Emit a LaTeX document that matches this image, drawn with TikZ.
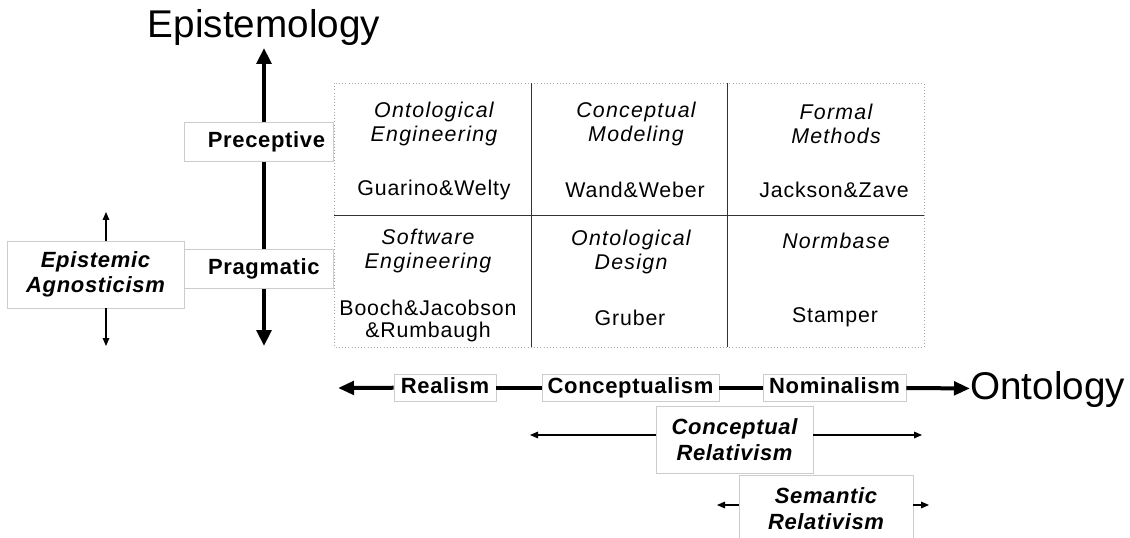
\documentclass[tikz,border=0pt]{standalone}
\usepackage{fontspec}
\setmainfont{Liberation Sans}
\usetikzlibrary{arrows.meta}

\begin{document}
\begin{tikzpicture}[x=0.75pt, y=-0.75pt,
		lbl/.style={draw=gray!40, fill=white, inner sep=0pt, align=center, font=\fontsize{16.5}{19}\selectfont\bfseries\addfontfeature{LetterSpace=3}},
		lbls/.style={lbl, text height=12pt, text depth=3.5pt},
		lbli/.style={lbl, font=\fontsize{16.5}{19}\selectfont\bfseries\itshape\addfontfeature{LetterSpace=3}},
		cell/.style={align=center, inner sep=0pt, font=\fontsize{16}{18}\selectfont\itshape\addfontfeature{LetterSpace=6}},
		who/.style={align=center, inner sep=0pt, font=\fontsize{16}{17}\selectfont\addfontfeature{LetterSpace=4}},
		big/.style={inner sep=0pt, font=\fontsize{29}{30}\selectfont},
		bigarrow/.style={line width=3pt, {Triangle[length=12pt, width=11pt]}-{Triangle[length=12pt, width=11pt]}},
		halfarrow/.style={line width=3pt, -{Triangle[length=12pt, width=10pt]}},
		thinarrow/.style={line width=0.8pt, -{Triangle[length=6pt, width=5pt]}}]
	\useasboundingbox (0,0) rectangle (1130,538);
	%axis titles
	\node[big] (epi) at (264,28) {Epistemology};
	\node[big, anchor=west] (ont) at (970,389) {Ontology};
	%epistemology axis
	\coordinate (vtop) at (264,48);
	\coordinate (vbot) at (264,346);
	\draw[bigarrow] (vbot) -- (vtop);
	\node[lbls, minimum width=111.75pt, minimum height=29.25pt] (prec) at (258.5,141.5) {\hspace{12pt}Preceptive};
	\node[lbli, minimum width=132.75pt, minimum height=50.25pt] (agn) at (95.5,274.5) {Epistemic\\Agnosticism};
	\node[lbls, minimum width=111.75pt, minimum height=29.25pt] (prag) at (258.5,268.5) {\hspace{8pt}Pragmatic};
	\coordinate (aup) at (106,212);
	\coordinate (adown) at (106,346);
	\draw[thinarrow] (agn.north -| aup) -- (aup);
	\draw[thinarrow] (agn.south -| adown) -- (adown);
	%table
	\draw[gray!70, dotted] (334,83) rectangle (924,347);
	\draw[black!80] (531,83) -- (531,347);
	\draw[black!80] (727,83) -- (727,347);
	\draw[black!80] (334,215) -- (924,215);
	%first row
	\node[cell] (oe) at (434,124) {Ontological\\Engineering};
	\node[who] (gw) at (434,190) {Guarino\&Welty};
	\node[cell] (cm) at (636,124) {Conceptual\\Modeling};
	\node[who] (ww) at (635,190) {Wand\&Weber};
	\node[cell] (fm) at (836,124) {Formal\\Methods};
	\node[who] (jz) at (834,190) {Jackson\&Zave};
	%second row
	\node[cell] (se) at (428,251) {Software\\Engineering};
	\node[who] (bjr) at (428,321) {Booch\&Jacobson\\\&Rumbaugh};
	\node[cell] (od) at (631,252) {Ontological\\Design};
	\node[who] (gr) at (630,318) {Gruber};
	\node[cell] (nb) at (836,241) {Normbase};
	\node[who] (st) at (835,317) {Stamper};
	%ontology axis
	\coordinate (hleft) at (338,388);
	\node[lbls, minimum width=76.5pt, minimum height=20.25pt] (real) at (445,387.5) {Realism};
	\node[lbls, minimum width=132.75pt, minimum height=20.25pt] (conc) at (630.5,387.5) {Conceptualism};
	\node[lbls, minimum width=107.25pt, minimum height=20.25pt] (nom) at (834.5,387.5) {Nominalism};
	\draw[halfarrow] (real) -- (hleft);
	\draw[line width=3pt] (real) -- (conc);
	\draw[line width=3pt] (conc) -- (nom);
	\draw[halfarrow] (nom) -- (ont);
	%relativisms
	\node[lbli, minimum width=117.75pt, minimum height=50.25pt] (crel) at (734.5,439.5) {Conceptual\\Relativism};
	\coordinate (cleft) at (530,435);
	\coordinate (cright) at (922,435);
	\draw[thinarrow] (cleft -| crel.west) -- (cleft);
	\draw[thinarrow] (cright -| crel.east) -- (cright);
	\node[lbli, minimum width=130.5pt, minimum height=50.25pt] (srel) at (826,508.5) {Semantic\\Relativism};
	\coordinate (sleft) at (717,505);
	\coordinate (sright) at (929,505);
	\draw[thinarrow] (sleft -| srel.west) -- (sleft);
	\draw[thinarrow] (sright -| srel.east) -- (sright);
\end{tikzpicture}
\end{document}
